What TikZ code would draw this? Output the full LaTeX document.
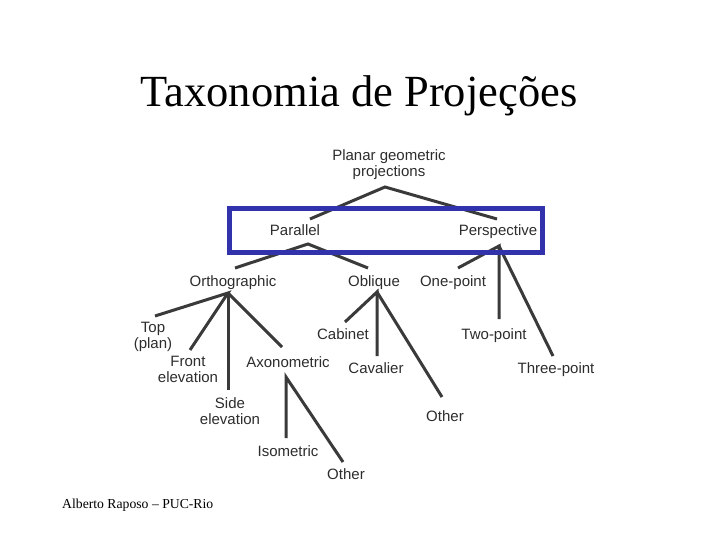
\documentclass[tikz,border=0pt]{standalone}
\usepackage{fontspec}
\setmainfont{Liberation Serif}
\newfontfamily\arialf{Liberation Sans}
\definecolor{boxblue}{RGB}{50,50,172}
\definecolor{inkgray}{RGB}{58,58,58}
\definecolor{txtgray}{RGB}{45,45,45}
\begin{document}
\begin{tikzpicture}[x=1pt,y=-1pt,
  lbl/.style={inner sep=0pt,anchor=base,text=txtgray,font=\arialf\fontsize{15}{15.5}\selectfont,align=center},
  edge/.style={draw=inkgray,line width=3pt},
  frame/.style={draw=boxblue,line width=5pt}]
\useasboundingbox (0,0) rectangle (720,540);
\fill[white] (0,0) rectangle (720,540);
% title and footer
\node[inner sep=0pt,anchor=base,font=\fontsize{44.5}{44.5}\selectfont] (title) at (359,107) {Taxonomia de Projeções};
\node[inner sep=0pt,anchor=base west,font=\fontsize{13.7}{14}\selectfont] (foot) at (62,508) {Alberto Raposo -- PUC-Rio};
% labels (multi-line nodes: base = baseline of last line)
\node[lbl] (pgp) at (389,176.5) {Planar geometric\\projections};
\node[lbl] (par) at (295,236) {Parallel};
\node[lbl] (per) at (498,236) {Perspective};
\node[lbl] (ort) at (233,286) {Orthographic};
\node[lbl] (obl) at (374,286) {Oblique};
\node[lbl] (one) at (453,286) {One-point};
\node[lbl] (top) at (153,348) {Top\\(plan)};
\node[lbl] (fro) at (188,382) {Front\\elevation};
\node[lbl] (sid) at (230,424) {Side\\elevation};
\node[lbl] (axo) at (288,367) {Axonometric};
\node[lbl] (cab) at (343,339) {Cabinet};
\node[lbl] (cav) at (376,373) {Cavalier};
\node[lbl] (oth) at (445,421) {Other};
\node[lbl] (two) at (494,339) {Two-point};
\node[lbl] (thr) at (556,373) {Three-point};
\node[lbl] (iso) at (288,456) {Isometric};
\node[lbl] (oth2) at (346,479) {Other};
% connector points
\coordinate (pgpA) at (385,187);
\coordinate (parT) at (310,219);
\coordinate (perT) at (497,219);
\coordinate (parA) at (308,244);
\coordinate (ortT) at (235,268);
\coordinate (oblT) at (368,268);
\coordinate (perA) at (499,246);
\coordinate (oneT) at (458,268);
\coordinate (twoT) at (499,319);
\coordinate (thrT) at (553,356);
\coordinate (ortA) at (228,293);
\coordinate (topT) at (155,316);
\coordinate (froT) at (190,350);
\coordinate (sidT) at (228,390);
\coordinate (axoT) at (282,347);
\coordinate (oblA) at (377,292);
\coordinate (cabT) at (345,322);
\coordinate (cavT) at (377,356);
\coordinate (othT) at (442,397);
\coordinate (axoA) at (286,377);
\coordinate (isoT) at (286,438);
\coordinate (oth2T) at (343,462);
% connectors
\draw[edge] (parT) -- (pgpA) -- (perT);
\draw[edge] (ortT) -- (parA) -- (oblT);
\draw[edge] (oneT) -- (perA) -- (twoT);
\draw[edge] (perA) -- (thrT);
\draw[edge] (topT) -- (ortA) -- (froT);
\draw[edge] (ortA) -- (sidT);
\draw[edge] (ortA) -- (axoT);
\draw[edge] (cabT) -- (oblA) -- (cavT);
\draw[edge] (oblA) -- (othT);
\draw[edge] (isoT) -- (axoA) -- (oth2T);
% highlight frame
\draw[frame] (229.5,208.5) rectangle (542.5,252.5);
\end{tikzpicture}
\end{document}
